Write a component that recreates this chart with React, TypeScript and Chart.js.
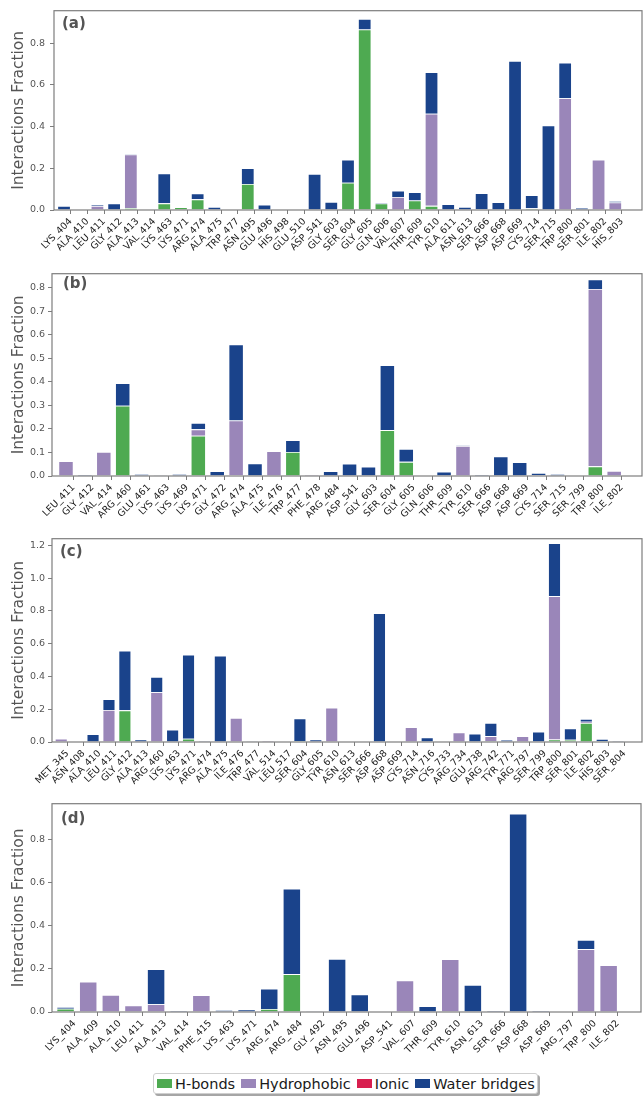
import React, { useEffect, useRef } from 'react';
import { Chart, registerables } from 'chart.js';

Chart.register(...registerables);

const FONT = '"DejaVu Sans", "Liberation Sans", sans-serif';
const SERIES = ['H-bonds', 'Hydrophobic', 'Ionic', 'Water bridges'];
const COLORS = ['#4eaa51', '#9a86b9', '#d81f4f', '#1a438b'];
const TICK_SHIFT = 0.4; // ticks sit at the right edge of each bar
const Y_TITLE = 'Interactions Fraction';

// ---------- Panel (a) ----------
const labelsA = ['LYS_404', 'ALA_410', 'LEU_411', 'GLY_412', 'ALA_413', 'VAL_414', 'LYS_463', 'LYS_471', 'ARG_474', 'ALA_475', 'TRP_477', 'ASN_495', 'GLU_496', 'HIS_498', 'GLU_510', 'ASP_541', 'GLY_603', 'SER_604', 'GLY_605', 'GLN_606', 'VAL_607', 'THR_609', 'TYR_610', 'ALA_611', 'ASN_613', 'SER_666', 'ASP_668', 'ASP_669', 'CYS_714', 'SER_715', 'TRP_800', 'SER_801', 'ILE_802', 'HIS_803'];
const hbondA = [0, 0, 0, 0, 0.01, 0, 0.032, 0.014, 0.051, 0, 0, 0.125, 0, 0, 0, 0, 0, 0.131, 0.866, 0.031, 0, 0.046, 0.02, 0, 0, 0.003, 0, 0, 0.008, 0, 0, 0, 0, 0];
const hydroA = [0, 0, 0.02, 0, 0.256, 0, 0, 0, 0, 0, 0, 0, 0, 0, 0, 0, 0, 0, 0, 0, 0.062, 0, 0.442, 0, 0, 0, 0, 0, 0, 0, 0.536, 0, 0.241, 0.036];
const ionicA = [0, 0, 0, 0, 0, 0, 0, 0, 0, 0, 0, 0, 0, 0, 0, 0, 0, 0, 0, 0, 0, 0, 0, 0, 0, 0, 0, 0, 0, 0, 0, 0, 0, 0];
const waterA = [0.02, 0.003, 0.008, 0.032, 0.003, 0.003, 0.143, 0, 0.028, 0.015, 0.003, 0.075, 0.026, 0.002, 0.002, 0.173, 0.039, 0.11, 0.051, 0.005, 0.031, 0.039, 0.199, 0.028, 0.015, 0.077, 0.037, 0.715, 0.063, 0.406, 0.171, 0.011, 0, 0.007];
const yTicksA = [0, 0.2, 0.4, 0.6, 0.8];

// ---------- Panel (b) ----------
const labelsB = ['LEU_411', 'GLY_412', 'VAL_414', 'ARG_460', 'GLU_461', 'LYS_463', 'LYS_469', 'LYS_471', 'GLY_472', 'ARG_474', 'ALA_475', 'ILE_476', 'TRP_477', 'PHE_478', 'ARG_484', 'ASP_541', 'GLY_603', 'SER_604', 'GLY_605', 'GLN_606', 'THR_609', 'TYR_610', 'SER_666', 'ASP_668', 'ASP_669', 'CYS_714', 'SER_715', 'SER_799', 'TRP_800', 'ILE_802'];
const hbondB = [0, 0, 0, 0.298, 0, 0, 0, 0.171, 0, 0.003, 0, 0, 0.102, 0, 0, 0, 0, 0.195, 0.06, 0, 0, 0, 0, 0, 0, 0.003, 0, 0, 0.041, 0];
const hydroB = [0.063, 0, 0.102, 0, 0, 0, 0, 0.027, 0, 0.233, 0, 0.105, 0, 0.006, 0, 0, 0, 0, 0, 0, 0, 0.128, 0, 0, 0, 0, 0, 0, 0.753, 0.021];
const ionicB = [0, 0, 0, 0, 0, 0, 0, 0, 0, 0, 0, 0, 0, 0, 0, 0, 0, 0, 0, 0, 0, 0, 0, 0, 0, 0, 0, 0, 0, 0];
const waterB = [0, 0.007, 0, 0.096, 0.008, 0.001, 0.008, 0.027, 0.02, 0.323, 0.053, 0, 0.05, 0, 0.02, 0.052, 0.039, 0.275, 0.055, 0.003, 0.018, 0.003, 0.007, 0.083, 0.059, 0.01, 0.008, 0, 0.041, 0];
const yTicksB = [0, 0.1, 0.2, 0.3, 0.4, 0.5, 0.6, 0.7, 0.8];

// ---------- Panel (c) ----------
const labelsC = ['MET_345', 'ASN_408', 'ALA_410', 'LEU_411', 'GLY_412', 'ALA_413', 'ARG_460', 'LYS_463', 'LYS_471', 'ARG_474', 'ALA_475', 'ILE_476', 'TRP_477', 'VAL_514', 'LEU_517', 'SER_604', 'GLY_605', 'TYR_610', 'ASN_613', 'SER_666', 'ASP_668', 'ASP_669', 'CYS_714', 'ASN_716', 'CYS_733', 'ARG_734', 'GLU_738', 'ARG_742', 'TYR_771', 'ARG_797', 'SER_799', 'TRP_800', 'SER_801', 'ILE_802', 'HIS_803', 'SER_804'];
const hbondC = [0, 0, 0, 0, 0.193, 0, 0, 0, 0.02, 0.003, 0, 0, 0, 0, 0, 0.006, 0, 0, 0, 0, 0, 0, 0, 0, 0, 0, 0, 0.006, 0, 0, 0, 0.016, 0.014, 0.116, 0.006, 0];
const hydroC = [0.02, 0, 0, 0.195, 0, 0, 0.304, 0, 0, 0, 0, 0.146, 0, 0.01, 0, 0, 0, 0.209, 0, 0, 0, 0, 0.091, 0, 0, 0.059, 0, 0.03, 0, 0.036, 0, 0.874, 0, 0.008, 0, 0];
const ionicC = [0, 0, 0, 0, 0, 0, 0, 0, 0, 0, 0, 0, 0, 0, 0, 0, 0, 0, 0, 0, 0, 0, 0, 0, 0, 0, 0, 0, 0, 0, 0, 0, 0, 0, 0, 0];
const waterC = [0, 0.004, 0.047, 0.066, 0.364, 0.016, 0.093, 0.075, 0.513, 0.003, 0.527, 0, 0.001, 0, 0, 0.138, 0.016, 0, 0, 0, 0.786, 0.004, 0, 0.028, 0, 0, 0.051, 0.08, 0.014, 0, 0.063, 0.322, 0.069, 0.016, 0.012, 0.006];
const yTicksC = [0, 0.2, 0.4, 0.6, 0.8, 1.0, 1.2];

// ---------- Panel (d) ----------
const labelsD = ['LYS_404', 'ALA_409', 'ALA_410', 'LEU_411', 'ALA_413', 'VAL_414', 'PHE_415', 'LYS_463', 'LYS_471', 'ARG_474', 'ARG_484', 'GLY_492', 'ASN_495', 'GLU_496', 'ASP_541', 'VAL_607', 'THR_609', 'TYR_610', 'ASN_613', 'SER_666', 'ASP_668', 'ASP_669', 'ARG_797', 'TRP_800', 'ILE_802'];
const hbondD = [0.015, 0, 0, 0, 0, 0, 0, 0, 0, 0.014, 0.176, 0, 0, 0, 0, 0, 0, 0, 0, 0, 0, 0, 0, 0, 0];
const hydroD = [0, 0.141, 0.079, 0.03, 0.036, 0, 0.078, 0, 0, 0, 0, 0, 0, 0, 0.003, 0.146, 0, 0.245, 0, 0, 0, 0, 0.003, 0.292, 0.217];
const ionicD = [0, 0, 0, 0, 0, 0, 0, 0, 0, 0, 0, 0, 0, 0, 0, 0, 0, 0, 0, 0, 0, 0, 0, 0, 0];
const waterD = [0.008, 0, 0, 0, 0.163, 0.008, 0, 0.009, 0.012, 0.094, 0.396, 0.004, 0.246, 0.082, 0, 0, 0.027, 0, 0.125, 0.008, 0.921, 0.006, 0, 0.043, 0];
const yTicksD = [0, 0.2, 0.4, 0.6, 0.8];

type PanelCfg = {
  letter: string;
  labels: string[];
  values: number[][];
  yTicks: number[];
  yMax: number;
  xMin: number;
  xMax: number;
  top: number;
  height: number;
  areaTop: number;
  areaBottom: number;
  areaLeft: number;
  areaRight: number;
  tickPad: number;
  letterDx: number;
  letterDy: number;
};

const PANELS: PanelCfg[] = [
  { letter: '(a)', labels: labelsA, values: [hbondA, hydroA, ionicA, waterA], yTicks: yTicksA, yMax: 0.956, xMin: -0.6, xMax: 34.6, top: 0, height: 265, areaTop: 3, areaBottom: 210, areaLeft: 54, areaRight: 642, tickPad: 5, letterDx: 8, letterDy: 6 },
  { letter: '(b)', labels: labelsB, values: [hbondB, hydroB, ionicB, waterB], yTicks: yTicksB, yMax: 0.859, xMin: -0.74, xMax: 30.47, top: 265, height: 265, areaTop: 272, areaBottom: 476, areaLeft: 52, areaRight: 642, tickPad: 3, letterDx: 11, letterDy: 3 },
  { letter: '(c)', labels: labelsC, values: [hbondC, hydroC, ionicC, waterC], yTicks: yTicksC, yMax: 1.24, xMin: -0.58, xMax: 36.5, top: 530, height: 265, areaTop: 537, areaBottom: 742, areaLeft: 52, areaRight: 642, tickPad: 3, letterDx: 8, letterDy: 6 },
  { letter: '(d)', labels: labelsD, values: [hbondD, hydroD, ionicD, waterD], yTicks: yTicksD, yMax: 0.967, xMin: -0.6, xMax: 25.43, top: 795, height: 275, areaTop: 800, areaBottom: 1012, areaLeft: 52, areaRight: 641, tickPad: 3, letterDx: 9, letterDy: 8 },
];

function Panel({ cfg }: { cfg: PanelCfg }) {
  const ref = useRef<HTMLCanvasElement>(null);
  useEffect(() => {
    const canvas = ref.current;
    if (!canvas) return;
    const c = cfg;
    const xAxisHeight = c.height - (c.areaBottom - c.top);
    const framePlugin = {
      id: 'frame' + c.letter,
      afterDraw(chart: any) {
        const { ctx, chartArea: a } = chart;
        ctx.save();
        ctx.strokeStyle = '#7d7d7d';
        ctx.lineWidth = 1.2;
        ctx.strokeRect(a.left, a.top, a.right - a.left, a.bottom - a.top);
        ctx.fillStyle = '#555555';
        ctx.font = `bold 15px ${FONT}`;
        ctx.textBaseline = 'top';
        ctx.textAlign = 'left';
        ctx.fillText(c.letter, a.left + c.letterDx, a.top + c.letterDy);
        ctx.restore();
      },
    };
    const chart = new Chart(canvas, {
      type: 'bar',
      data: {
        datasets: SERIES.map((name, k) => ({
          label: name,
          data: c.values[k].map((v, i) => ({ x: i, y: v })),
          backgroundColor: COLORS[k],
          borderColor: 'rgba(255,255,255,0.5)',
          borderWidth: 0.8,
          barPercentage: 0.8,
          categoryPercentage: 1,
        })),
      },
      options: {
        animation: false,
        responsive: false,
        maintainAspectRatio: false,
        layout: { padding: { left: 0, right: 643 - c.areaRight, top: c.areaTop - c.top, bottom: 0 } },
        plugins: { legend: { display: false }, tooltip: { enabled: false } },
        scales: {
          x: {
            type: 'linear',
            stacked: true,
            bounds: 'data',
            min: c.xMin,
            max: c.xMax,
            offset: false,
            grid: { display: true, drawOnChartArea: false, drawTicks: true, tickLength: 4, tickColor: '#7d7d7d', offset: false },
            border: { display: false },
            afterBuildTicks: (s: any) => {
              s.ticks = c.labels.map((_, i) => ({ value: i + TICK_SHIFT }));
            },
            afterFit: (s: any) => {
              s.height = xAxisHeight;
            },
            ticks: {
              autoSkip: false,
              minRotation: 45,
              maxRotation: 45,
              padding: 2,
              color: '#1a1a1a',
              font: { family: FONT, size: 9.5 },
              callback: (v: any) => c.labels[Math.round(Number(v) - TICK_SHIFT)] ?? '',
            },
          },
          y: {
            type: 'linear',
            stacked: true,
            bounds: 'data',
            min: 0,
            max: c.yMax,
            grid: { display: true, drawOnChartArea: false, drawTicks: true, tickLength: 4, tickColor: '#7d7d7d' },
            border: { display: false },
            afterBuildTicks: (s: any) => {
              s.ticks = c.yTicks.map((v) => ({ value: v }));
            },
            afterFit: (s: any) => {
              s.width = c.areaLeft;
            },
            ticks: {
              color: '#555555',
              padding: c.tickPad,
              font: { family: FONT, size: 9.5 },
              callback: (v: any) => Number(v).toFixed(1),
            },
            title: {
              display: true,
              text: Y_TITLE,
              color: '#555555',
              font: { family: FONT, size: 15.5 },
              padding: { top: 10, bottom: 0 },
            },
          },
        },
      } as any,
      plugins: [framePlugin],
    });
    return () => chart.destroy();
  }, [cfg]);
  return (
    <canvas
      ref={ref}
      width={643}
      height={cfg.height}
      style={{ position: 'absolute', left: 0, top: cfg.top, width: 643, height: cfg.height }}
    />
  );
}

function Legend() {
  return (
    <div
      style={{
        position: 'absolute',
        left: 153,
        top: 1073,
        width: 385,
        height: 21,
        border: '1px solid #cfcfcf',
        borderRadius: 3,
        boxShadow: '2px 2px 0 rgba(0,0,0,0.35)',
        background: '#fff',
        display: 'flex',
        alignItems: 'center',
        paddingLeft: 3,
        boxSizing: 'border-box',
        fontFamily: FONT,
        fontSize: 14.5,
        color: '#1a1a1a',
        whiteSpace: 'nowrap',
      }}
    >
      {SERIES.map((name, k) => (
        <span key={name} style={{ display: 'flex', alignItems: 'center', marginRight: k < SERIES.length - 1 ? 6 : 0 }}>
          <span style={{ display: 'inline-block', width: 15, height: 9, background: COLORS[k], marginRight: 3 }} />
          <span>{name}</span>
        </span>
      ))}
    </div>
  );
}

export default function App() {
  return (
    <div style={{ position: 'absolute', left: 0, top: 0, width: 643, height: 1098, background: '#fff', overflow: 'hidden' }}>
      {PANELS.map((p) => (
        <Panel key={p.letter} cfg={p} />
      ))}
      <Legend />
    </div>
  );
}
